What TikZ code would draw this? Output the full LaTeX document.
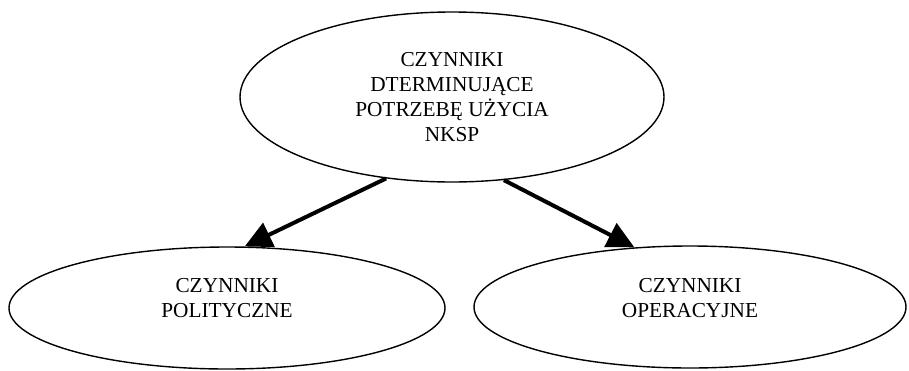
\documentclass[tikz,border=0pt]{standalone}
\usepackage{fontspec}
\setmainfont{Liberation Serif}
\usepackage{tikz}
\usetikzlibrary{shapes.geometric,arrows.meta,positioning}

\begin{document}
\begin{tikzpicture}[
            x=1pt,
            y=-1pt,
            factor node/.style={ellipse,draw,line width=1.4pt,inner sep=0pt,align=center,font=\fontsize{21.3}{25}\selectfont},
            main arrow/.style={-{Triangle[length=27pt,width=26pt]},line width=4pt}
        ]
            \useasboundingbox (0,0) rectangle (909,370);
            \node[factor node,minimum width=424pt,minimum height=170pt] (determinants) at (452,97) {CZYNNIKI\\DTERMINUJĄCE\\POTRZEBĘ UŻYCIA\\NKSP};
            \node[factor node,minimum width=436pt,minimum height=122pt,text height=40pt,text depth=22pt] (political) at (227,308) {CZYNNIKI\\POLITYCZNE};
            \node[factor node,minimum width=432pt,minimum height=122pt,text height=40pt,text depth=20pt] (operational) at (690,307) {CZYNNIKI\\OPERACYJNE};
            
            \draw[main arrow] (determinants.231) -- (political.74);
            \draw[main arrow] (determinants.302) -- (operational.133);
        \end{tikzpicture}
\end{document}
